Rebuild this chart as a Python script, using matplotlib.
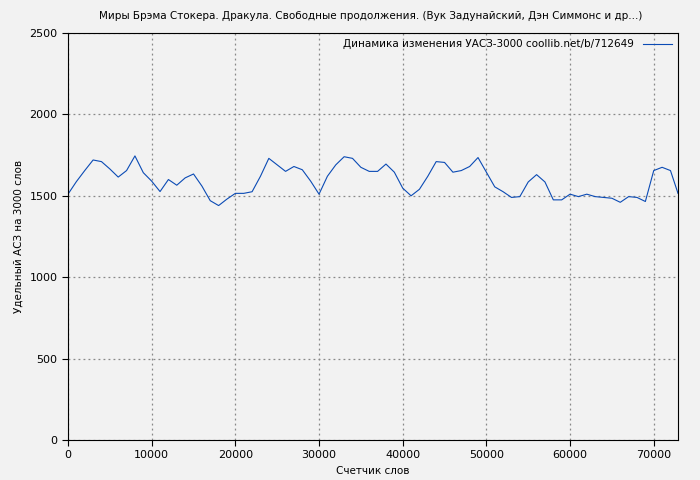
import matplotlib
matplotlib.use("Agg")
import matplotlib.pyplot as plt

x = [i*1000 for i in range(73)] + [72900]
y = [1510,1587,1655,1720,1710,1665,1615,1655,1745,1642,1590,1526,1600,1565,1610,1634,1560,1470,1440,1480,
     1515,1515,1525,1620,1730,1690,1650,1680,1660,1590,1510,1620,1690,1740,1730,1675,1650,1650,1695,1645,
     1547,1500,1540,1620,1710,1705,1645,1655,1680,1735,1645,1555,1525,1490,1495,1585,1630,1585,1475,1475,
     1510,1495,1510,1495,1490,1485,1460,1495,1490,1465,1655,1675,1655,1515]

bg = "#f2f2f2"
fig = plt.figure(figsize=(7, 4.8), dpi=100, facecolor=bg)
ax = fig.add_axes([68/700, 40/480, 610/700, 407/480], facecolor=bg)
ax.plot(x, y, color="#0b4bb5", lw=0.8, label="Динамика изменения УАСЗ-3000 coollib.net/b/712649")
ax.set_xlim(0, 72900)
ax.set_ylim(0, 2500)
ax.set_xticks(range(0, 70001, 10000))
ax.set_yticks(range(0, 2501, 500))
ax.grid(True, color="#888888", ls=(0, (1.5, 2.5)), lw=0.9)
for s in ax.spines.values():
    s.set_color("black")
ax.tick_params(labelsize=8, length=4)
ax.set_xlabel("Счетчик слов", fontsize=7.5)
ax.set_ylabel("Удельный АСЗ на 3000 слов", fontsize=7.5)
fig.text(0.53, 0.977, "Миры Брэма Стокера. Дракула. Свободные продолжения. (Вук Задунайский, Дэн Симмонс и др...)",
         ha="center", va="top", fontsize=7.5)
leg = ax.legend(loc="upper right", fontsize=7.5, frameon=False, markerfirst=False, handlelength=2.8,
                borderaxespad=0.2)
fig.savefig("out.png", facecolor=bg)
